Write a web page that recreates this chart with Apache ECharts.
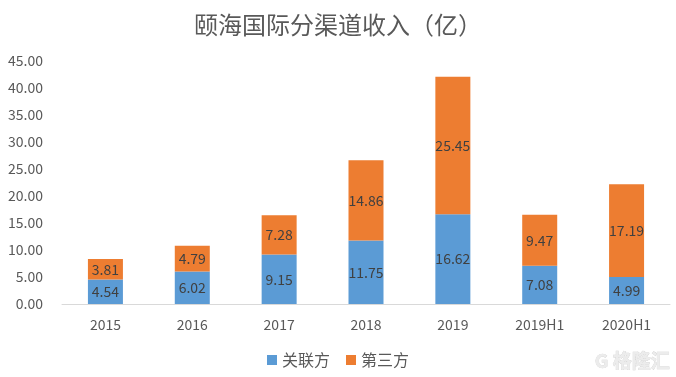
<!DOCTYPE html>
<html>
<head>
<meta charset="utf-8">
<script src="https://cdn.jsdelivr.net/npm/echarts@6/dist/echarts.min.js"></script>
<style>
  html, body { margin: 0; padding: 0; background: #fff; }
  #chart { width: 676px; height: 377px; }
</style>
</head>
<body>
<div id="chart"></div>
<script>
// 颐海国际分渠道收入（亿），关联方 + 第三方 堆叠柱
const CATEGORIES = ['2015', '2016', '2017', '2018', '2019', '2019H1', '2020H1'];
const RELATED = [4.54, 6.02, 9.15, 11.75, 16.62, 7.08, 4.99];
const THIRD_PARTY = [3.81, 4.79, 7.28, 14.86, 25.45, 9.47, 17.19];

const FONT = '"Microsoft YaHei", "Noto Sans CJK SC", sans-serif';
const TEXT = '#595959';

const chart = echarts.init(document.getElementById('chart'));

const label = {
  show: true, position: 'inside', color: '#404040', fontSize: 14,
  fontFamily: FONT, formatter: p => p.value.toFixed(2),
};

chart.setOption({
  backgroundColor: '#fff',
  animation: false,
  title: {
    text: '颐海国际分渠道收入（亿）', left: 'center', top: 8,
    textStyle: { color: TEXT, fontSize: 24, fontWeight: 'normal', fontFamily: FONT },
  },
  legend: {
    bottom: 4, left: 'center', itemWidth: 10, itemHeight: 10, itemGap: 16,
    icon: 'rect',
    textStyle: { color: TEXT, fontSize: 16, fontFamily: FONT },
  },
  grid: { left: 62, right: 6, top: 61, bottom: 73 },
  xAxis: {
    type: 'category', data: CATEGORIES,
    axisLine: { lineStyle: { color: '#d9d9d9' } },
    axisTick: { show: false },
    axisLabel: { color: TEXT, fontSize: 14, fontFamily: FONT, margin: 14 },
  },
  yAxis: {
    type: 'value', min: 0, max: 45, interval: 5,
    axisLine: { show: false }, axisTick: { show: false },
    splitLine: { show: false },
    axisLabel: { color: TEXT, fontSize: 14, fontFamily: FONT, margin: 19,
                 formatter: v => v.toFixed(2) },
  },
  series: [
    { name: '关联方', type: 'bar', stack: 'total', data: RELATED, barWidth: 35,
      itemStyle: { color: '#5B9BD5' }, label },
    { name: '第三方', type: 'bar', stack: 'total', data: THIRD_PARTY, barWidth: 35,
      itemStyle: { color: '#ED7D31' }, label },
  ],
  graphic: [{
    type: 'text', right: 6, bottom: 6, silent: true,
    style: { text: 'G 格隆汇', fill: '#ececec', fontSize: 19, fontWeight: 'bold',
             fontFamily: FONT, stroke: '#d0d0d0', lineWidth: 0.6 },
  }],
});
</script>
</body>
</html>
